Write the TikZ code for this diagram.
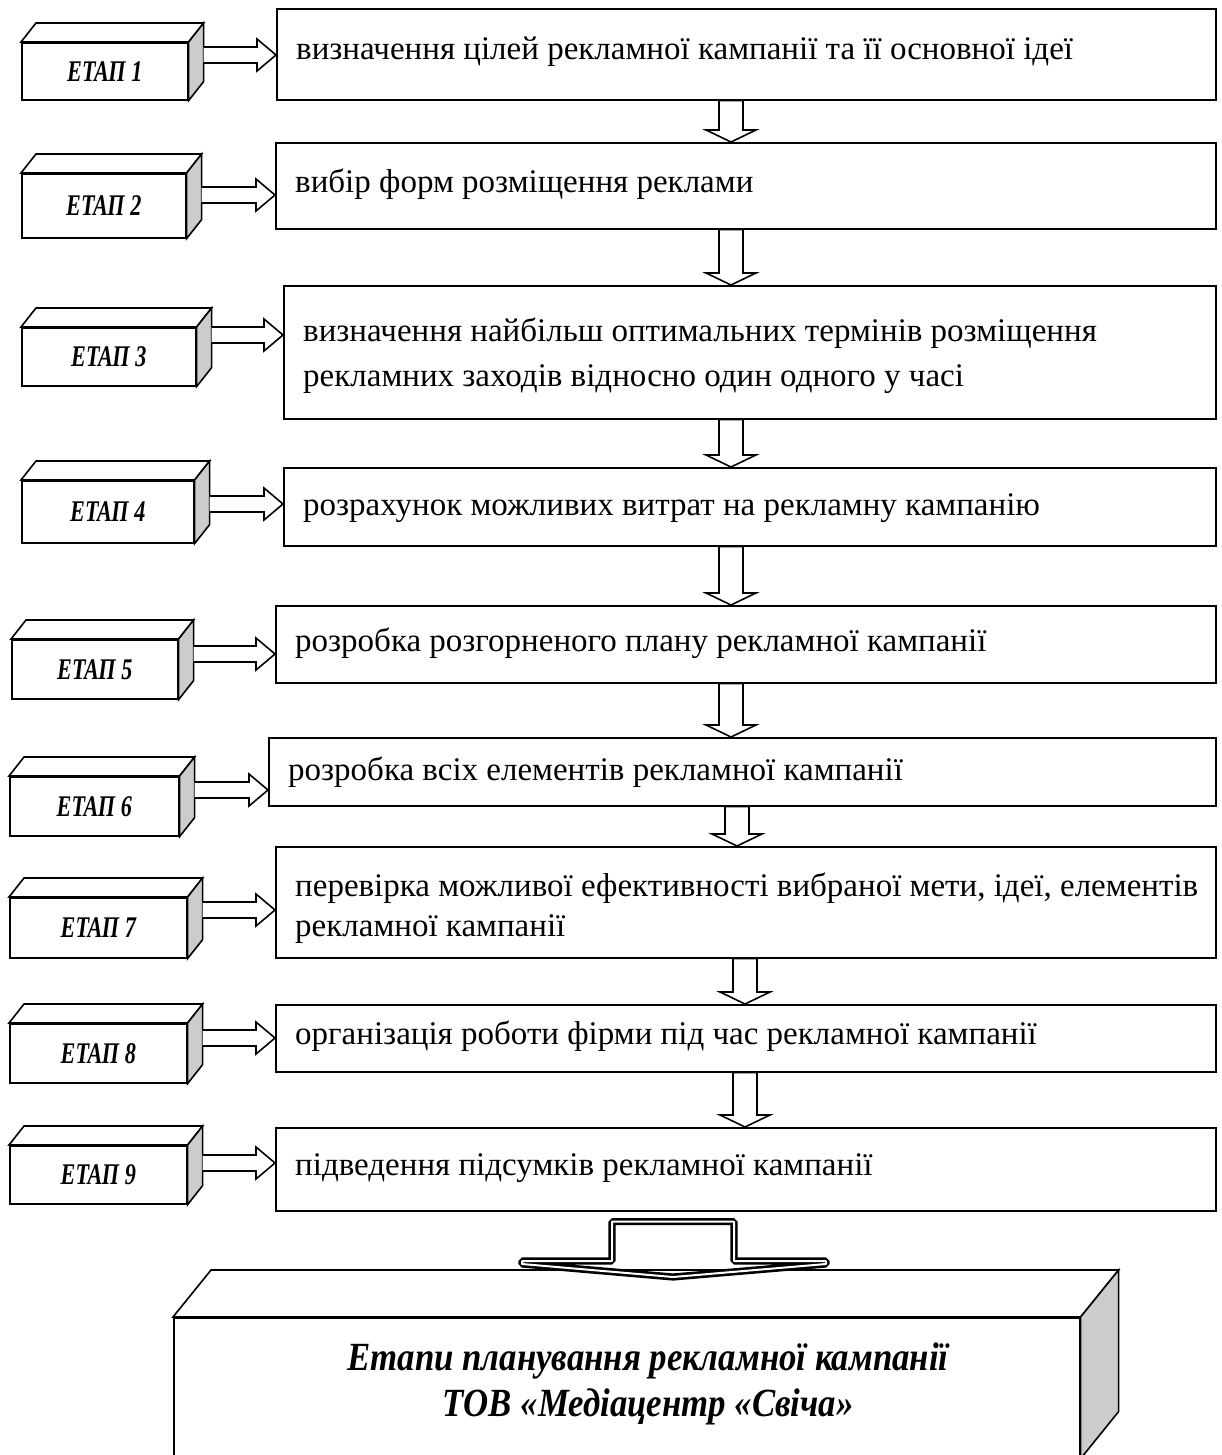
\documentclass[tikz,border=0pt]{standalone}
\usepackage{fontspec}
\usepackage{graphicx}
\setmainfont{Liberation Serif}
\usetikzlibrary{calc}
\definecolor{sidegray}{RGB}{204,204,204}
\tikzset{
  lw/.style={line width=1.6pt, line join=miter},
  mainbox/.style={lw, draw, rectangle, anchor=north west, inner sep=0pt},
  maintext/.style={inner sep=0pt, align=left, font=\fontsize{33}{45}\selectfont},
  etapfront/.style={lw, draw, fill=white, rectangle, anchor=north west, inner sep=0pt,
     font=\fontsize{30}{34}\selectfont\bfseries\itshape},
  topface/.style={lw, draw, fill=white},
  sideface/.style={lw, draw, fill=sidegray},
  arr/.style={lw, draw, fill=white},
  bigarr/.style={draw, line width=2.6pt, double=white, double distance=2pt, line join=bevel},
}
\newcommand\etap[6]{%
  \node[etapfront, minimum width=#4pt, minimum height=#5pt] (e#1) at (#2,#3) {\scalebox{0.74}[1]{#6}};
  \draw[topface] (e#1.north west) -- ++(15,-19) -- ($(e#1.north east)+(15,-19)$) -- (e#1.north east) -- cycle;
  \draw[sideface] (e#1.north east) -- ++(15,-19) -- ($(e#1.south east)+(15,-19)$) -- (e#1.south east) -- cycle;
  \coordinate (s#1) at ($(e#1.east)+(15,0)$);
}
\newcommand\rarrow[2]{% #1 row id, #2 arrow y
  \coordinate (r#1) at (0,#2);
  \coordinate (S#1) at (s#1 |- r#1);
  \coordinate (T#1) at (b#1.west |- r#1);
  \draw[arr] ($(S#1)+(0,-8)$) -- ($(T#1)+(-19,-8)$) -- ($(T#1)+(-19,-16)$) -- (T#1)
     -- ($(T#1)+(-19,16)$) -- ($(T#1)+(-19,8)$) -- ($(S#1)+(0,8)$);
}
\newcommand\darrow[3]{% #1 x, #2 upper box, #3 lower box
  \coordinate (dx#2) at (#1,0);
  \coordinate (A#2) at (dx#2 |- b#2.south);
  \coordinate (B#2) at (dx#2 |- b#3.north);
  \draw[arr] ($(A#2)+(-12,0)$) -- ($(A#2)+(12,0)$) -- ($(B#2)+(12,-12)$) -- ($(B#2)+(25,-12)$)
     -- (B#2) -- ($(B#2)+(-25,-12)$) -- ($(B#2)+(-12,-12)$) -- cycle;
}
\begin{document}
\begin{tikzpicture}[x=1pt,y=-1pt]
\useasboundingbox (0,0) rectangle (1222,1455);

% main boxes
\node[mainbox, minimum width=939pt, minimum height=91pt] (b1) at (276,8) {};
\node[mainbox, minimum width=940pt, minimum height=86pt] (b2) at (275,142) {};
\node[mainbox, minimum width=932pt, minimum height=133pt] (b3) at (283,285) {};
\node[mainbox, minimum width=932pt, minimum height=78pt] (b4) at (283,467) {};
\node[mainbox, minimum width=940pt, minimum height=77pt] (b5) at (275,605) {};
\node[mainbox, minimum width=947pt, minimum height=68pt] (b6) at (268,737) {};
\node[mainbox, minimum width=940pt, minimum height=111pt] (b7) at (275,846) {};
\node[mainbox, minimum width=940pt, minimum height=67pt] (b8) at (275,1004) {};
\node[mainbox, minimum width=940pt, minimum height=83pt] (b9) at (275,1127) {};

% texts
\node[maintext, anchor=mid west] (t1) at ($(b1.west)+(20,3)$) {визначення цілей рекламної кампанії та її основної ідеї};
\node[maintext, anchor=mid west] (t2) at ($(b2.west)+(20,4)$) {вибір форм розміщення реклами};
\node[maintext, anchor=west] (t3) at ($(b3.west)+(20,3)$) {визначення найбільш оптимальних термінів розміщення\\рекламних заходів відносно один одного у часі};
\node[maintext, anchor=mid west] (t4) at ($(b4.west)+(20,6)$) {розрахунок можливих витрат на рекламну кампанію};
\node[maintext, anchor=mid west] (t5) at ($(b5.west)+(20,5)$) {розробка розгорненого плану рекламної кампанії};
\node[maintext, anchor=mid west] (t6) at ($(b6.west)+(20,6)$) {розробка всіх елементів рекламної кампанії};
\node[maintext, anchor=west, font=\fontsize{33}{40}\selectfont] (t7) at ($(b7.west)+(20,6)$) {перевірка можливої ефективності вибраної мети, ідеї, елементів\\рекламної кампанії};
\node[maintext, anchor=mid west] (t8) at ($(b8.west)+(20,4)$) {організація роботи фірми під час рекламної кампанії};
\node[maintext, anchor=mid west] (t9) at ($(b9.west)+(20,4)$) {підведення підсумків рекламної кампанії};

% etap blocks
\etap{1}{21}{42}{166}{57}{ЕТАП 1}
\etap{2}{21}{173}{164}{64}{ЕТАП 2}
\etap{3}{21}{327}{174}{58}{ЕТАП 3}
\etap{4}{21}{480}{172}{62}{ЕТАП 4}
\etap{5}{11}{639}{166}{59}{ЕТАП 5}
\etap{6}{9}{776}{169}{59}{ЕТАП 6}
\etap{7}{9}{897}{177}{60}{ЕТАП 7}
\etap{8}{9}{1023}{177}{59}{ЕТАП 8}
\etap{9}{9}{1145}{177}{58}{ЕТАП 9}

% right arrows
\rarrow{1}{55}
\rarrow{2}{195}
\rarrow{3}{335}
\rarrow{4}{504}
\rarrow{5}{654}
\rarrow{6}{790}
\rarrow{7}{910}
\rarrow{8}{1038}
\rarrow{9}{1163}

% down arrows
\darrow{731}{1}{2}
\darrow{731}{2}{3}
\darrow{731}{3}{4}
\darrow{731}{4}{5}
\darrow{731}{5}{6}
\darrow{737}{6}{7}
\darrow{745}{7}{8}
\darrow{745}{8}{9}

% big final box
\node[mainbox, minimum width=906pt, minimum height=140pt] (bb) at (173,1317) {};
\draw[topface] (bb.north west) -- ++(38,-47) -- ($(bb.north east)+(38,-47)$) -- (bb.north east) -- cycle;
\draw[sideface] (bb.north east) -- ++(38,-47) -- ($(bb.south east)+(38,-47)$) -- (bb.south east) -- cycle;
\node[align=center, inner sep=0pt, font=\fontsize{40}{46}\selectfont\bfseries\itshape] (title) at (648,1384)
  {\scalebox{0.87}[1]{Етапи планування рекламної кампанії}\\\scalebox{0.87}[1]{ТОВ «Медіацентр «Свіча»}};

% big arrow
\coordinate (bx) at (673,0);
\coordinate (P) at ($(bx |- b9.south)+(0,10)$);
\coordinate (Q) at ($(bx |- bb.north)+(0,-40)$);
\draw[bigarr] ($(P)+(-61,0)$) -- ($(P)+(61,0)$) -- ($(Q)+(61,-16)$) -- ($(Q)+(153,-16)$) -- ($(Q)+(153,-13)$)
   -- (Q) -- ($(Q)+(-151,-13)$) -- ($(Q)+(-151,-16)$) -- ($(Q)+(-61,-16)$) -- cycle;
\end{tikzpicture}
\end{document}
